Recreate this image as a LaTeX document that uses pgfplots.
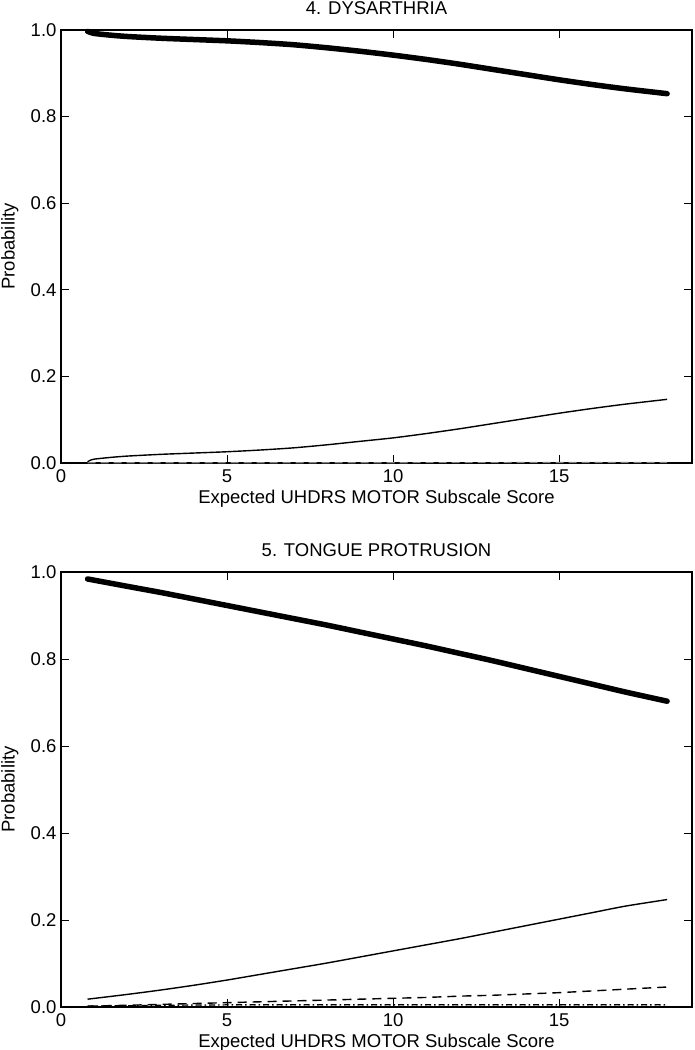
\documentclass[border=0pt]{standalone}
\usepackage{fontspec}
\setmainfont{Liberation Sans}
\usepackage{pgfplots}
\pgfplotsset{compat=1.18}
\pgfplotsset{
  panel/.style={
    scale only axis,
    width=631pt,
    height=433pt,
    xmin=0, xmax=19,
    ymin=0, ymax=1,
    xtick={0,5,10,15},
    ytick={0,0.2,0.4,0.6,0.8,1.0},
    tick align=inside,
    major tick length=8pt,
    tick style={black, line width=0.8pt},
    axis line style={black, line width=1.3pt},
    font=\fontsize{18.5}{22}\selectfont,
    /pgf/number format/assume math mode=true,
    xticklabel style={anchor=base, yshift=-19.5pt},
    yticklabel style={xshift=-1pt, /pgf/number format/.cd, fixed, fixed zerofill, precision=1},
    xlabel={Expected UHDRS MOTOR Subscale Score},
    ylabel={Probability},
    xlabel style={at={(axis description cs:0.5,0)}, anchor=base, yshift=-40pt},
    ylabel style={at={(axis description cs:-0.081,0.5)}, anchor=center},
    title style={at={(axis description cs:0.5,1)}, anchor=base, yshift=10pt, inner sep=0pt},
    clip=false,
  },
  thickline/.style={black, line width=5.5pt, line cap=round, smooth, tension=0.4},
  thinline/.style={black, line width=1.4pt, smooth, tension=0.4},
}
\begin{document}
\begin{tikzpicture}[x=1pt,y=1pt]
\useasboundingbox (0,0) rectangle (694,-1050);
\begin{axis}[panel, at={(61pt,-30pt)}, anchor=north west, title={4. DYSARTHRIA}]
\addplot[thickline] coordinates {
(0.8,0.997) (0.9,0.994) (1.0,0.992) (1.5,0.988) (2.0,0.985) (3.0,0.981) (4.0,0.978)
(5.0,0.975) (6.0,0.971) (7.0,0.966) (8.0,0.959) (9.0,0.951) (10.0,0.942) (11.0,0.932)
(12.0,0.921) (13.0,0.909) (14.0,0.897) (15.0,0.885) (16.0,0.874) (17.0,0.864) (18.25,0.853)};
\addplot[thinline] coordinates {
(0.8,0.003) (0.9,0.007) (1.0,0.009) (1.5,0.013) (2.0,0.016) (3.0,0.020) (4.0,0.023)
(5.0,0.026) (6.0,0.030) (7.0,0.035) (8.0,0.042) (9.0,0.050) (10.0,0.058) (11.0,0.068)
(12.0,0.079) (13.0,0.091) (14.0,0.103) (15.0,0.115) (16.0,0.126) (17.0,0.136) (18.25,0.147)};
\addplot[gray, line width=1.2pt, dash pattern=on 8pt off 5pt] coordinates {
(0.8,0.0005) (5,0.0006) (10,0.0008) (15,0.001) (18.25,0.0012)};
\end{axis}
\begin{axis}[panel, at={(61pt,-572pt)}, anchor=north west, height=435pt, title={5. TONGUE PROTRUSION}]
\addplot[thickline] coordinates {
(0.8,0.984) (2,0.967) (3,0.953) (4,0.938) (5,0.923) (6,0.908) (7,0.893) (8,0.878)
(9,0.862) (10,0.846) (11,0.830) (12,0.813) (13,0.796) (14,0.778) (15,0.760) (16,0.742)
(17,0.724) (18.25,0.703)};
\addplot[thinline] coordinates {
(0.8,0.018) (2,0.029) (3,0.039) (4,0.050) (5,0.062) (6,0.075) (7,0.088) (8,0.101)
(9,0.115) (10,0.129) (11,0.143) (12,0.157) (13,0.172) (14,0.187) (15,0.202) (16,0.217)
(17,0.232) (18.25,0.247)};
\addplot[black, line width=1.4pt, dash pattern=on 9pt off 6pt] coordinates {
(0.8,0.002) (2,0.004) (3,0.006) (4,0.008) (5,0.010) (6,0.012) (7,0.014) (8,0.016)
(9,0.018) (10,0.020) (11,0.022) (12,0.025) (13,0.027) (14,0.030) (15,0.033) (16,0.037)
(17,0.041) (18.25,0.046)};
\addplot[black, line width=1.2pt, dash pattern=on 6pt off 3pt on 1.5pt off 3pt] coordinates {
(0.8,0.002) (3,0.004) (5,0.005) (10,0.005) (15,0.005) (18.25,0.005)};
\addplot[black, line width=1.2pt, dash pattern=on 1.5pt off 3pt] coordinates {
(0.8,0.001) (5,0.002) (10,0.002) (15,0.002) (18.25,0.002)};
\end{axis}
\end{tikzpicture}
\end{document}
